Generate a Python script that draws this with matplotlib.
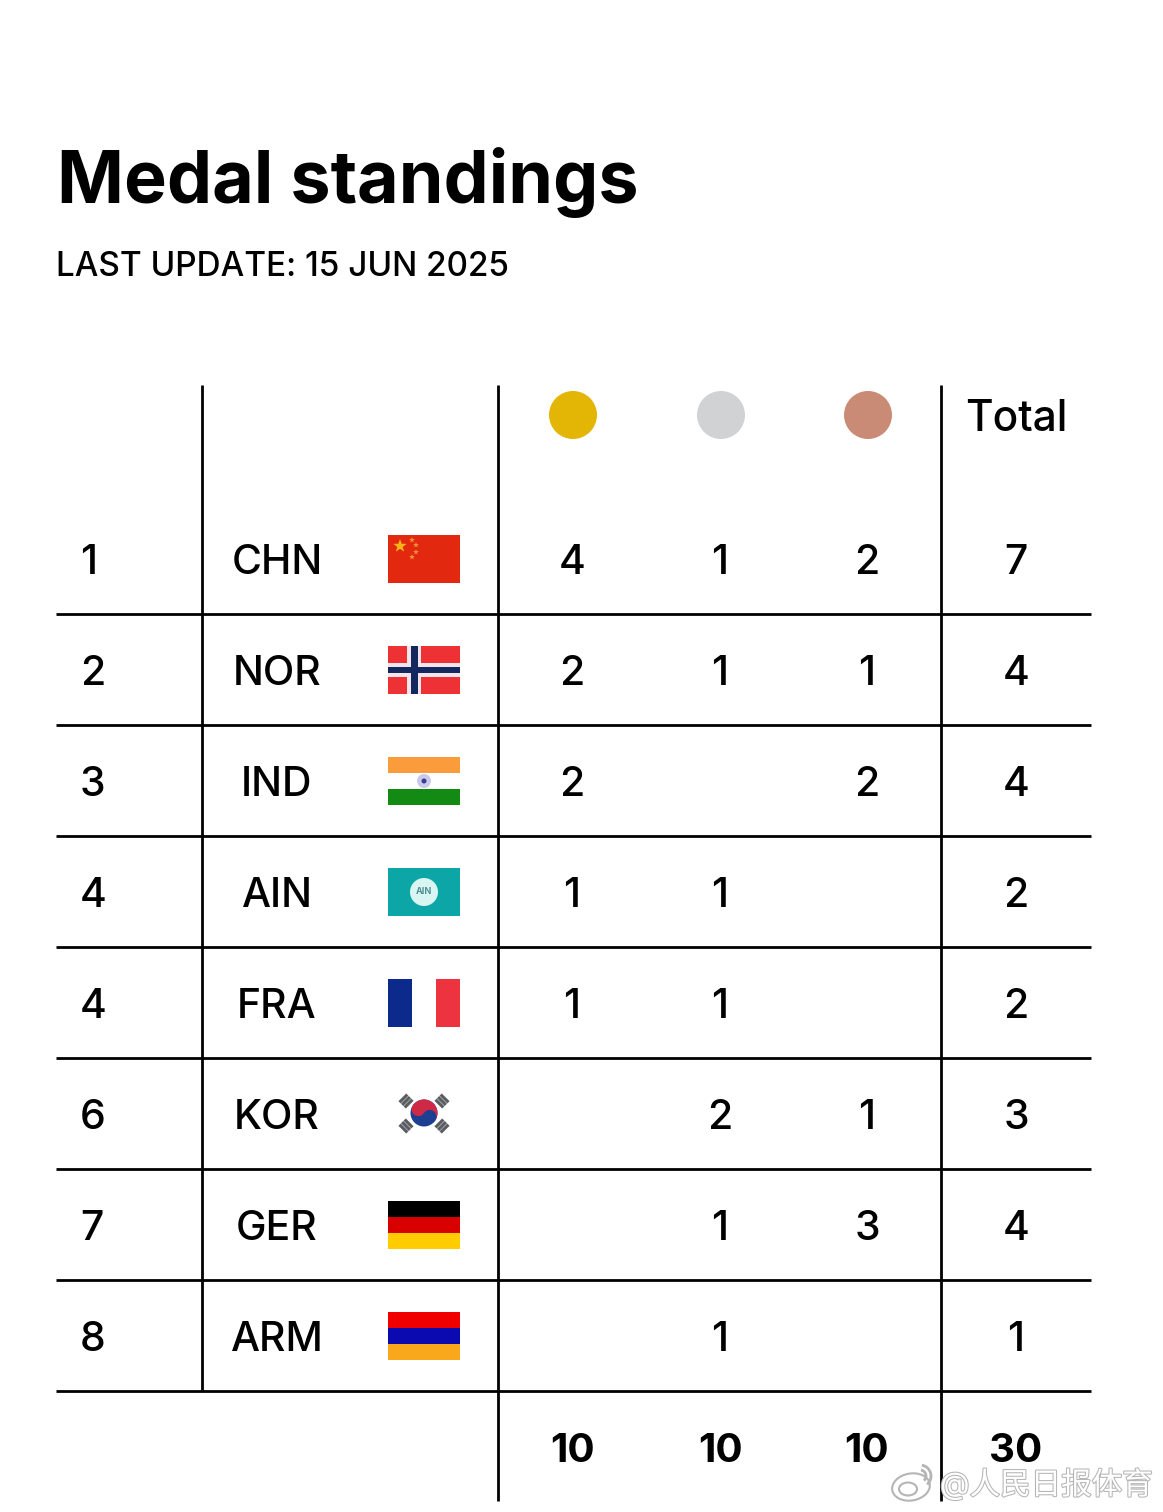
import math
import matplotlib
matplotlib.use('Agg')
import matplotlib.pyplot as plt
import matplotlib.patheffects as pe
from matplotlib.patches import Rectangle, Circle, Ellipse, Arc, Polygon, Wedge

plt.rcParams['font.family'] = ['Inter', 'Noto Sans CJK SC', 'DejaVu Sans']

ranks = ['1', '2', '3', '4', '4', '6', '7', '8']
nocs = ['CHN', 'NOR', 'IND', 'AIN', 'FRA', 'KOR', 'GER', 'ARM']
gold = [4, 2, 2, 1, 1, None, None, None]
silver = [1, 1, None, 1, 1, 2, 1, 1]
bronze = [2, 1, 2, None, None, 1, 3, None]
total = [7, 4, 4, 2, 2, 3, 4, 1]
sums = [10, 10, 10, 30]

medal_colors = ['#e3b505', '#d1d2d4', '#c98b75']

col_x = [573, 721, 868, 1017]
row_y = [559 + 111 * i for i in range(8)]

fig = plt.figure(figsize=(11.63, 15.12), dpi=100)
ax = fig.add_axes([0, 0, 1, 1])
ax.set_xlim(0, 1163)
ax.set_ylim(1512, 0)
ax.axis('off')


def box(x, y, w, h, c):
    ax.add_patch(Rectangle((x, y), w, h, fc=c, ec='none'))


def star(x, y, r, c):
    pts = []
    for i in range(10):
        rr = r if i % 2 == 0 else r * 0.4
        a = math.radians(-90 + 36 * i)
        pts.append((x + rr * math.cos(a), y + rr * math.sin(a)))
    ax.add_patch(Polygon(pts, fc=c, ec='none'))


def trigram(cx, cy, ang):
    # three short bars across the direction given by ang
    ca, sa = math.cos(math.radians(ang)), math.sin(math.radians(ang))
    for off in (-3.6, 0, 3.6):
        mx, my = cx + off * ca, cy + off * sa
        pts = []
        for u, v in [(-1.6, -5.5), (1.6, -5.5), (1.6, 5.5), (-1.6, 5.5)]:
            pts.append((mx + u * ca - v * sa, my + u * sa + v * ca))
        ax.add_patch(Polygon(pts, fc='#5a5d61', ec='none'))


def flag(noc, y):
    x0, w, h = 388, 72, 48
    top = y - 24
    if noc == 'CHN':
        box(x0, top, w, h, '#e2290f')
        star(x0 + 12, top + 11, 7, '#f7b51c')
        for dx, dy in [(24, 5), (28, 10), (28, 17), (24, 22)]:
            star(x0 + dx, top + dy, 3, '#f2953a')
    elif noc == 'NOR':
        box(x0, top, w, h, '#ee3135')
        box(x0 + 19, top, 14, h, '#f2e6ea')
        box(x0, top + 17, w, 14, '#f2e6ea')
        box(x0 + 22.5, top, 7.5, h, '#14275e')
        box(x0, top + 20.5, w, 6.5, '#14275e')
    elif noc == 'IND':
        box(x0, top, w, 16, '#fb9c3c')
        box(x0, top + 32, w, 16, '#138a13')
        ax.add_patch(Circle((x0 + 36, top + 24), 7, fc='#c9c9ea', ec='none'))
        ax.add_patch(Circle((x0 + 36, top + 24), 2.5, fc='#3a3a9a', ec='none'))
    elif noc == 'AIN':
        box(x0, top, w, h, '#0da6a6')
        ax.add_patch(Circle((x0 + 36, top + 24), 14, fc='#d9f5f2', ec='none'))
        ax.text(x0 + 36, top + 24, 'AIN', ha='center', va='center', fontsize=6.5,
                color='#4f8f96', fontweight='bold')
    elif noc == 'FRA':
        box(x0, top, 24, h, '#0b2a8c')
        box(x0 + 48, top, 24, h, '#ee3340')
    elif noc == 'KOR':
        cx, cy, r = x0 + 36, y - 1, 13.5
        ax.add_patch(Circle((cx, cy), r, fc='#1c3f94', ec='none'))
        ax.add_patch(Wedge((cx, cy), r, 213, 393, fc='#cf2a45', ec='none'))
        dx, dy = r / 2 * math.cos(math.radians(33)), r / 2 * math.sin(math.radians(33))
        ax.add_patch(Circle((cx - dx, cy - dy), r / 2, fc='#cf2a45', ec='none'))
        ax.add_patch(Circle((cx + dx, cy + dy), r / 2, fc='#1c3f94', ec='none'))
        trigram(cx - 18, cy - 12, 45)
        trigram(cx + 18, cy - 12, -45)
        trigram(cx - 18, cy + 13, -45)
        trigram(cx + 18, cy + 13, 45)
    elif noc == 'GER':
        box(x0, top, w, 16, '#000000')
        box(x0, top + 16, w, 16, '#d90000')
        box(x0, top + 32, w, 16, '#ffcc00')
    elif noc == 'ARM':
        box(x0, top, w, 16, '#f00000')
        box(x0, top + 16, w, 16, '#0a0ab0')
        box(x0, top + 32, w, 16, '#f9a81c')


ax.text(57, 175, 'Medal standings', fontsize=51.7, fontweight='bold', color='#000000',
        ha='left', va='center_baseline')
ax.text(56, 264, 'LAST UPDATE: 15 JUN 2025', fontsize=24, fontweight=500, color='#000000',
        ha='left', va='center_baseline')

# grid lines
line = dict(color='black', lw=2.0, solid_capstyle='butt')
ax.plot([202, 202], [385, 1391], **line)
ax.plot([498, 498], [385, 1501], **line)
ax.plot([941, 941], [385, 1501], **line)
for i in range(8):
    yy = 614 + 111 * i
    ax.plot([56, 1091], [yy, yy], **line)

# header
for x, c in zip(col_x[:3], medal_colors):
    ax.add_patch(Circle((x, 415), 24, fc=c, ec='none'))
ax.text(col_x[3] - 1, 415, 'Total', fontsize=30.5, fontweight=500, ha='center', va='center_baseline')

txt = dict(fontsize=29.5, fontweight=500, va='center_baseline', color='black')
for i, y in enumerate(row_y):
    ax.text(80, y, ranks[i], ha='left', **txt)
    ax.text(277, y, nocs[i], ha='center', **txt)
    flag(nocs[i], y)
    for x, v in zip(col_x, [gold[i], silver[i], bronze[i], total[i]]):
        if v is not None:
            ax.text(x - 1, y, str(v), ha='center', **txt)

for x, v in zip(col_x, sums):
    ax.text(x - 1, 1447, str(v), ha='center', fontsize=29, fontweight='bold', va='center_baseline')

# watermark
ax.text(940, 1484, '@人民日报体育', fontsize=22, color='white', ha='left', va='center',
        path_effects=[pe.withStroke(linewidth=1.5, foreground='#b5b5b5')])
ax.add_patch(Ellipse((911, 1487), 38, 27, angle=-10, fc='white', ec='#b5b5b5', lw=1.5))
ax.add_patch(Ellipse((908, 1489), 18, 13, fc='white', ec='#b5b5b5', lw=1.5))
ax.add_patch(Arc((920, 1476), 22, 22, theta1=-80, theta2=50, color='#b5b5b5', lw=2))
ax.add_patch(Arc((920, 1476), 12, 12, theta1=-80, theta2=50, color='#b5b5b5', lw=2))

fig.savefig('out.png', dpi=100)
